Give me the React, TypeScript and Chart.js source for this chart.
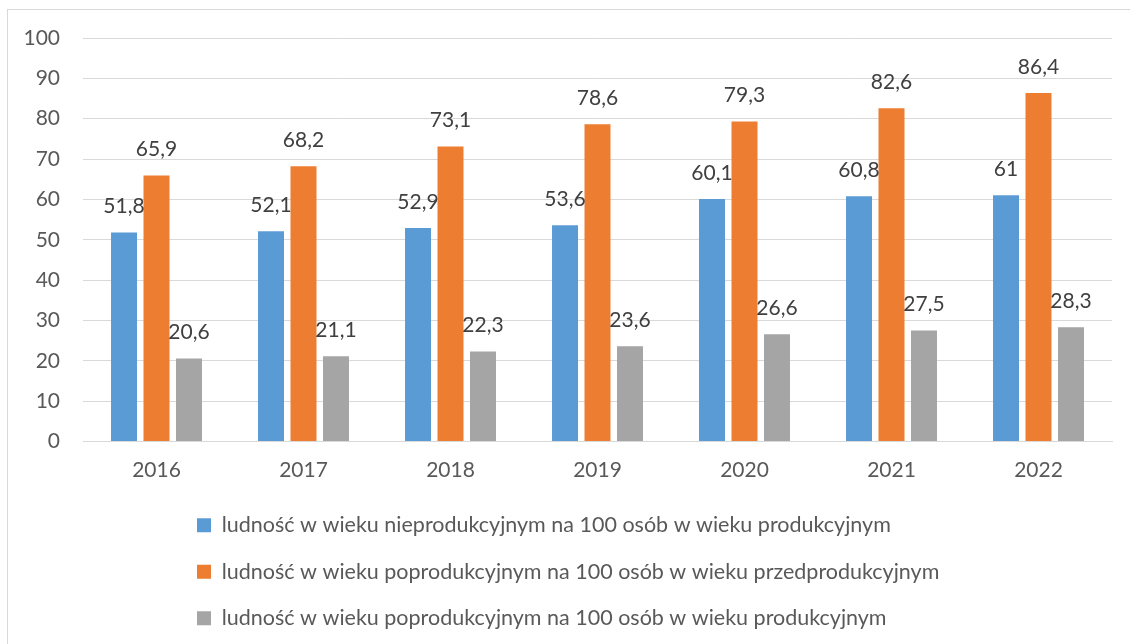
import React, { useEffect, useRef } from "react";
import { Chart, registerables } from "chart.js";

Chart.register(...registerables);

const categories = ["2016", "2017", "2018", "2019", "2020", "2021", "2022"];
const nieprodukcyjny = [51.8, 52.1, 52.9, 53.6, 60.1, 60.8, 61];
const poprodPrzedprod = [65.9, 68.2, 73.1, 78.6, 79.3, 82.6, 86.4];
const poprodProd = [20.6, 21.1, 22.3, 23.6, 26.6, 27.5, 28.3];
const seriesNames = [
  "ludność w wieku nieprodukcyjnym na 100 osób w wieku produkcyjnym",
  "ludność w wieku poprodukcyjnym na 100 osób w wieku przedprodukcyjnym",
  "ludność w wieku poprodukcyjnym na 100 osób w wieku produkcyjnym",
];
const yTicks = [0, 10, 20, 30, 40, 50, 60, 70, 80, 90, 100];

const FONT = "Lato, 'Open Sans', sans-serif";

const borderPlugin = {
  id: "outerBorder",
  beforeDraw(chart: any) {
    const ctx = chart.ctx;
    ctx.save();
    ctx.fillStyle = "#ffffff";
    ctx.fillRect(0, 0, chart.width, chart.height);
    ctx.strokeStyle = "#d9d9d9";
    ctx.lineWidth = 1;
    ctx.strokeRect(7.5, 9.5, 1300, 800);
    ctx.restore();
  },
};

const legendShift = {
  id: "legendShift",
  afterLayout(chart: any) {
    if (chart.legend) {
      chart.legend.left = 172;
    }
  },
};

const dataLabels = {
  id: "dataLabels",
  afterDatasetsDraw(chart: any) {
    const ctx = chart.ctx;
    ctx.save();
    ctx.font = `21px ${FONT}`;
    ctx.fillStyle = "#404040";
    ctx.textAlign = "center";
    ctx.textBaseline = "middle";
    chart.data.datasets.forEach((ds: any, i: number) => {
      const meta = chart.getDatasetMeta(i);
      meta.data.forEach((bar: any, j: number) => {
        const v = ds.data[j];
        ctx.fillText(String(v).replace(".", ","), bar.x, bar.y - 26);
      });
    });
    ctx.restore();
  },
};

export default function App() {
  const ref = useRef<HTMLCanvasElement>(null);
  useEffect(() => {
    document.body.style.margin = "0";
    const chart = new Chart(ref.current!, {
      type: "bar",
      data: {
        labels: categories,
        datasets: [
          { label: seriesNames[0], data: nieprodukcyjny, backgroundColor: "#5B9BD5" },
          { label: seriesNames[1], data: poprodPrzedprod, backgroundColor: "#ED7D31" },
          { label: seriesNames[2], data: poprodProd, backgroundColor: "#A5A5A5" },
        ],
      },
      options: {
        animation: false,
        responsive: false,
        layout: { padding: { left: 0, right: 18, top: 38, bottom: 5 } },
        datasets: {
          bar: { categoryPercentage: 0.663, barPercentage: 0.8 },
        },
        scales: {
          x: {
            grid: { display: false, drawTicks: false },
            border: { color: "#d9d9d9", width: 1 },
            ticks: { color: "#595959", font: { family: FONT, size: 21 }, padding: 16 },
            afterFit(scale: any) {
              scale.height = 48;
            },
          },
          y: {
            min: 0,
            max: 100,
            afterBuildTicks(scale: any) {
              scale.ticks = yTicks.map((v) => ({ value: v }));
            },
            grid: { color: "#d9d9d9", lineWidth: 1, drawTicks: false },
            border: { display: false },
            ticks: { color: "#595959", font: { family: FONT, size: 21 }, padding: 23 },
            afterFit(scale: any) {
              scale.width = 83;
            },
          },
        },
        plugins: {
          legend: {
            position: "bottom",
            align: "start",
            labels: {
              boxWidth: 14,
              boxHeight: 14,
              padding: 25,
              color: "#595959",
              font: { family: FONT, size: 21.5 },
            },
          },
          tooltip: { enabled: false },
        },
      },
      plugins: [borderPlugin, legendShift, dataLabels],
    });
    return () => chart.destroy();
  }, []);
  return <canvas ref={ref} width={1130} height={644} style={{ display: "block" }} />;
}
